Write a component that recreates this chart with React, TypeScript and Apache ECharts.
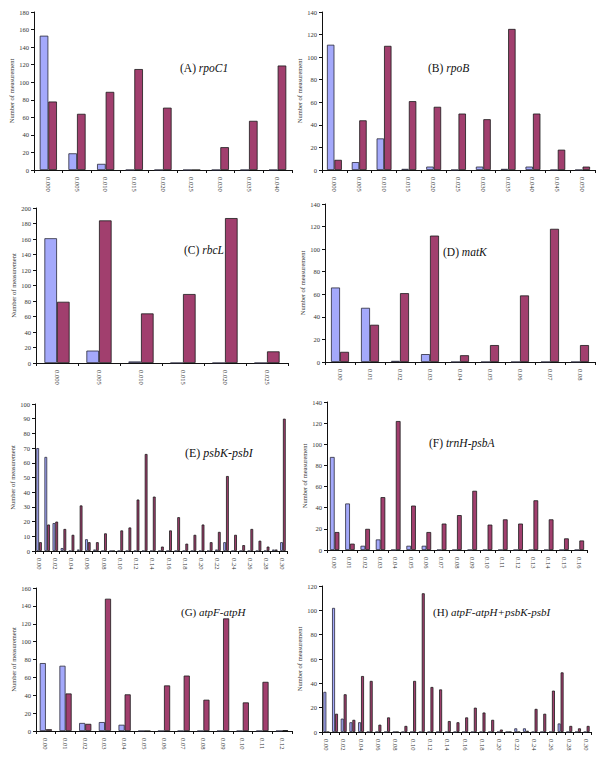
import React, { useEffect, useRef } from "react";
import * as echarts from "echarts";

// ---------- data ----------
const catsA = ["0.000", "0.005", "0.010", "0.015", "0.020", "0.025", "0.030", "0.035", "0.040"];
const blueA = [153, 19, 7, 0, 0, 0, 0, 0, 0];
const redA = [78, 64, 89, 115, 71, 0, 26, 56, 119];

const catsB = ["0.000", "0.005", "0.010", "0.015", "0.020", "0.025", "0.030", "0.035", "0.040", "0.045", "0.050"];
const blueB = [111, 7, 28, 1, 3, 0, 3, 1, 3, 0, 0];
const redB = [9, 44, 110, 61, 56, 50, 45, 125, 50, 18, 3];

const catsC = ["0.000", "0.005", "0.010", "0.015", "0.020", "0.025"];
const blueC = [161, 16, 2, 0, 0, 0];
const redC = [79, 184, 64, 89, 187, 15];

const catsD = ["0.00", "0.01", "0.02", "0.03", "0.04", "0.05", "0.06", "0.07", "0.08"];
const blueD = [66, 48, 1, 7, 0, 0, 0, 0, 0];
const redD = [9, 33, 61, 112, 6, 15, 59, 118, 15];

const catsE = [
  "0.00", "0.01", "0.02", "0.03", "0.04", "0.05", "0.06", "0.07", "0.08", "0.09",
  "0.10", "0.11", "0.12", "0.13", "0.14", "0.15", "0.16", "0.17", "0.18", "0.19",
  "0.20", "0.21", "0.22", "0.23", "0.24", "0.25", "0.26", "0.27", "0.28", "0.29", "0.30",
];
const blueE = [70, 64, 19, 2, 0, 1, 8, 1, 0, 0, 0, 0, 0, 0, 0, 0, 0, 0, 0, 0, 0, 0, 1, 6, 0, 0, 0, 0, 0, 1, 6];
const redE = [6, 18, 20, 15, 11, 31, 6, 6, 12, 0, 14, 16, 35, 66, 37, 3, 14, 23, 5, 11, 18, 6, 13, 51, 11, 4, 15, 7, 3, 1, 90];

const catsF = [
  "0.00", "0.01", "0.02", "0.03", "0.04", "0.05", "0.06", "0.07", "0.08",
  "0.09", "0.10", "0.11", "0.12", "0.13", "0.14", "0.15", "0.16",
];
const blueF = [88, 44, 4, 10, 0, 4, 4, 0, 0, 0, 0, 0, 0, 0, 0, 0, 0];
const redF = [17, 6, 20, 50, 122, 42, 17, 25, 33, 56, 24, 29, 25, 47, 29, 11, 9];

const catsG = ["0.00", "0.01", "0.02", "0.03", "0.04", "0.05", "0.06", "0.07", "0.08", "0.09", "0.10", "0.11", "0.12"];
const blueG = [76, 73, 9, 10, 7, 0, 0, 0, 0, 0, 0, 0, 0];
const redG = [2, 42, 8, 148, 41, 0, 51, 62, 35, 126, 32, 55, 1];

const catsH = catsE;
const blueH = [33, 102, 11, 8, 8, 0, 0, 0, 0, 0, 0, 0, 0, 0, 0, 0, 0, 0, 0, 0, 0, 0, 3, 3, 0, 0, 0, 7, 0, 0, 0];
const redH = [0, 15, 31, 10, 46, 42, 6, 12, 0, 5, 42, 114, 37, 35, 9, 8, 12, 20, 16, 10, 2, 0, 0, 1, 19, 15, 34, 49, 5, 3, 5];

const yName = "Number of measurement";

// ---------- layout ----------
const panels = [
  { letter: "A", gene: "rpoC1", cats: catsA, blue: blueA, red: redA, max: 180, step: 20,
    grid: { left: 34, top: 12, width: 258, height: 158 }, gap: 17, every: 0, tx: 180, ty: 62, fs: 11.5, bcg: "40%" },
  { letter: "B", gene: "rpoB", cats: catsB, blue: blueB, red: redB, max: 140, step: 20,
    grid: { left: 322, top: 12, width: 273, height: 158 }, gap: 14, every: 0, tx: 428, ty: 62, fs: 11.5, bcg: "40%" },
  { letter: "C", gene: "rbcL", cats: catsC, blue: blueC, red: redC, max: 200, step: 20,
    grid: { left: 36, top: 208, width: 252, height: 155 }, gap: 17, every: 0, tx: 184, ty: 244, fs: 11.5, bcg: "40%" },
  { letter: "D", gene: "matK", cats: catsD, blue: blueD, red: redD, max: 140, step: 20,
    grid: { left: 325, top: 204, width: 270, height: 158 }, gap: 18, every: 0, tx: 443, ty: 246, fs: 11.5, bcg: "40%" },
  { letter: "E", gene: "psbK-psbI", cats: catsE, blue: blueE, red: redE, max: 100, step: 10,
    grid: { left: 35, top: 404, width: 252, height: 147 }, gap: 16, every: 1, tx: 185, ty: 447, fs: 12, bcg: "32%" },
  { letter: "F", gene: "trnH-psbA", cats: catsF, blue: blueF, red: redF, max: 140, step: 20,
    grid: { left: 327, top: 402, width: 260, height: 148 }, gap: 19, every: 0, tx: 429, ty: 437, fs: 11.5, bcg: "38%" },
  { letter: "G", gene: "atpF-atpH", cats: catsG, blue: blueG, red: redG, max: 160, step: 20,
    grid: { left: 36, top: 588, width: 256, height: 143 }, gap: 19, every: 0, tx: 181, ty: 606, fs: 11, bcg: "38%" },
  { letter: "H", gene: "atpF-atpH+psbK-psbI", cats: catsH, blue: blueH, red: redH, max: 120, step: 20,
    grid: { left: 322, top: 586, width: 269, height: 146 }, gap: 16, every: 1, tx: 433, ty: 606, fs: 11, bcg: "32%" },
];

const serif = "Liberation Serif";
const axisColor = "#111";

function buildOption() {
  const grid = panels.map((p) => ({ ...p.grid, containLabel: false }));
  const xAxis = panels.map((p, i) => ({
    type: "category",
    gridIndex: i,
    data: p.cats,
    boundaryGap: true,
    axisLine: { show: true, lineStyle: { color: axisColor, width: 1 } },
    axisTick: { show: true, interval: 0, length: 3, lineStyle: { color: axisColor } },
    axisLabel: {
      interval: p.every,
      rotate: -90,
      margin: 7,
      fontSize: 6.5,
      fontFamily: serif,
      color: "#333",
    },
    splitLine: { show: false },
  }));
  const yAxis = panels.map((p, i) => ({
    type: "value",
    gridIndex: i,
    min: 0,
    max: p.max,
    interval: p.step,
    name: yName,
    nameLocation: "middle",
    nameGap: p.gap,
    nameTextStyle: { fontSize: 6.5, fontFamily: serif, color: "#333" },
    axisLine: { show: true, lineStyle: { color: axisColor, width: 1 } },
    axisTick: { show: true, length: 3, lineStyle: { color: axisColor } },
    axisLabel: { fontSize: 6.5, fontFamily: serif, color: "#333", margin: 5 },
    splitLine: { show: false },
  }));
  const series: any[] = [];
  panels.forEach((p, i) => {
    series.push({
      type: "bar",
      xAxisIndex: i,
      yAxisIndex: i,
      data: p.blue,
      barGap: "0%",
      barCategoryGap: p.bcg,
      itemStyle: { color: "#a4a9fb", borderColor: "#2a2a3a", borderWidth: 0.8 },
    });
    series.push({
      type: "bar",
      xAxisIndex: i,
      yAxisIndex: i,
      data: p.red,
      barGap: "0%",
      barCategoryGap: p.bcg,
      itemStyle: { color: "#a13f6e", borderColor: "#1a1a1a", borderWidth: 0.8 },
    });
  });
  const title = panels.map((p) => ({
    text: `{n|(${p.letter}) }{i|${p.gene}}`,
    left: p.tx,
    top: p.ty,
    padding: 0,
    textStyle: {
      fontWeight: "normal",
      fontFamily: serif,
      fontSize: p.fs,
      color: "#111",
      rich: {
        n: { fontFamily: serif, fontSize: p.fs, fontWeight: "normal", color: "#111" },
        i: { fontFamily: serif, fontSize: p.fs, fontWeight: "normal", fontStyle: "italic", color: "#111" },
      },
    },
  }));
  return {
    animation: false,
    backgroundColor: "#ffffff",
    title,
    grid,
    xAxis,
    yAxis,
    series,
  };
}

export default function App() {
  const ref = useRef<HTMLDivElement>(null);
  useEffect(() => {
    if (!ref.current) return;
    const chart = echarts.init(ref.current, undefined, { renderer: "svg" });
    chart.setOption(buildOption() as any);
    return () => chart.dispose();
  }, []);
  return (
    <div
      ref={ref}
      style={{ position: "absolute", left: 0, top: 0, width: 600, height: 770, background: "#fff" }}
    />
  );
}
